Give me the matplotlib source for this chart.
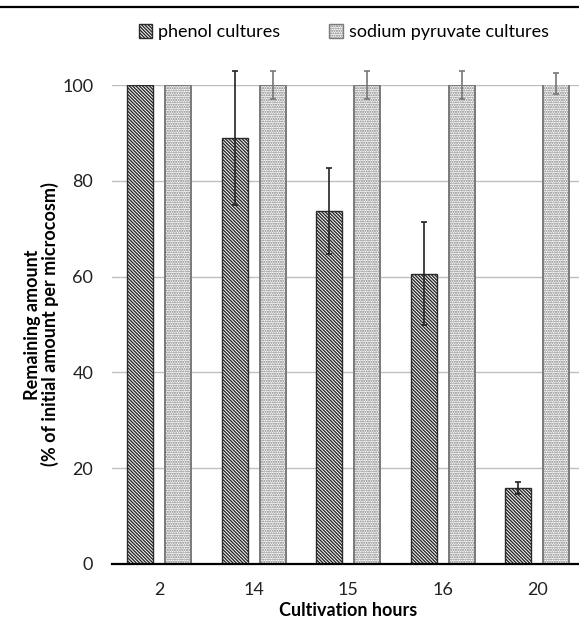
import numpy as np
import matplotlib.pyplot as plt
from matplotlib.patches import Patch
from matplotlib.lines import Line2D

plt.rcParams['font.family'] = ['Lato', 'DejaVu Sans']
plt.rcParams['hatch.linewidth'] = 1.0

# datos
horas = ['2', '14', '15', '16', '20']
fenol = [100, 88.9, 73.7, 60.6, 15.9]
fenol_err = [0, 14.0, 9.0, 10.8, 1.2]
piruvato = [100, 100, 100, 100, 100.4]
piruvato_err = [0, 3.0, 3.0, 3.0, 2.2]

fig = plt.figure(figsize=(5.79, 6.21), dpi=100)
ax = fig.add_axes([0.1934, 0.0918, 0.8161, 0.7713])

x = np.arange(len(horas))
ancho = 0.275
sep = 0.2
hatch_fenol = '\\' * 10
hatch_piru = '.' * 7

ax.bar(x - sep, fenol, ancho, color='white', edgecolor='#2a2a2a',
       hatch=hatch_fenol, linewidth=1.0, zorder=2)
ax.bar(x + sep, piruvato, ancho, color='white', edgecolor='#7a7a7a',
       hatch=hatch_piru, linewidth=1.4, zorder=2)

# barras de error (solo donde hay)
for i in range(len(horas)):
    if fenol_err[i] > 0:
        ax.errorbar(x[i] - sep, fenol[i], yerr=fenol_err[i], fmt='none',
                    ecolor='#222222', elinewidth=1.2, capsize=2.5,
                    capthick=1.2, zorder=3, clip_on=False)
    if piruvato_err[i] > 0:
        ax.errorbar(x[i] + sep, piruvato[i], yerr=piruvato_err[i], fmt='none',
                    ecolor='#777777', elinewidth=1.2, capsize=2.5,
                    capthick=1.2, zorder=3, clip_on=False)

ax.set_xlim(-0.5, 4.5)
ax.set_ylim(0, 100)
ax.set_yticks([0, 20, 40, 60, 80, 100])
ax.set_xticks(x)
ax.set_xticklabels(horas)
ax.tick_params(axis='both', length=0, labelsize=13, colors='#222222')
ax.tick_params(axis='y', pad=13.5)
ax.tick_params(axis='x', pad=13)
ax.yaxis.grid(True, color='#bfbfbf', linewidth=1.0, zorder=0)
ax.set_axisbelow(True)

for lado in ['top', 'right', 'left']:
    ax.spines[lado].set_visible(False)
ax.spines['bottom'].set_linewidth(1.6)
ax.spines['bottom'].set_color('black')
ax.spines['bottom'].set_zorder(4)

ax.set_xlabel('Cultivation hours', fontsize=13, fontweight='bold', labelpad=3)
ax.set_ylabel('Remaining amount\n(% of initial amount per microcosm)',
              fontsize=13, fontweight='bold', labelpad=2, linespacing=1.0)

# leyenda arriba
handles = [Patch(facecolor='white', edgecolor='#2a2a2a', hatch=hatch_fenol, label='phenol cultures'),
           Patch(facecolor='white', edgecolor='#7a7a7a', hatch=hatch_piru, label='sodium pyruvate cultures')]
fig.legend(handles=handles, loc='center', bbox_to_anchor=(0.594, 0.948), ncol=2,
           frameon=False, fontsize=13, handlelength=0.75, handleheight=0.75,
           handletextpad=0.35, columnspacing=2.7)

# linea negra superior
fig.add_artist(Line2D([0, 1], [0.9885, 0.9885], transform=fig.transFigure,
                      color='black', linewidth=1.6))

fig.savefig('out.png', dpi=100)
